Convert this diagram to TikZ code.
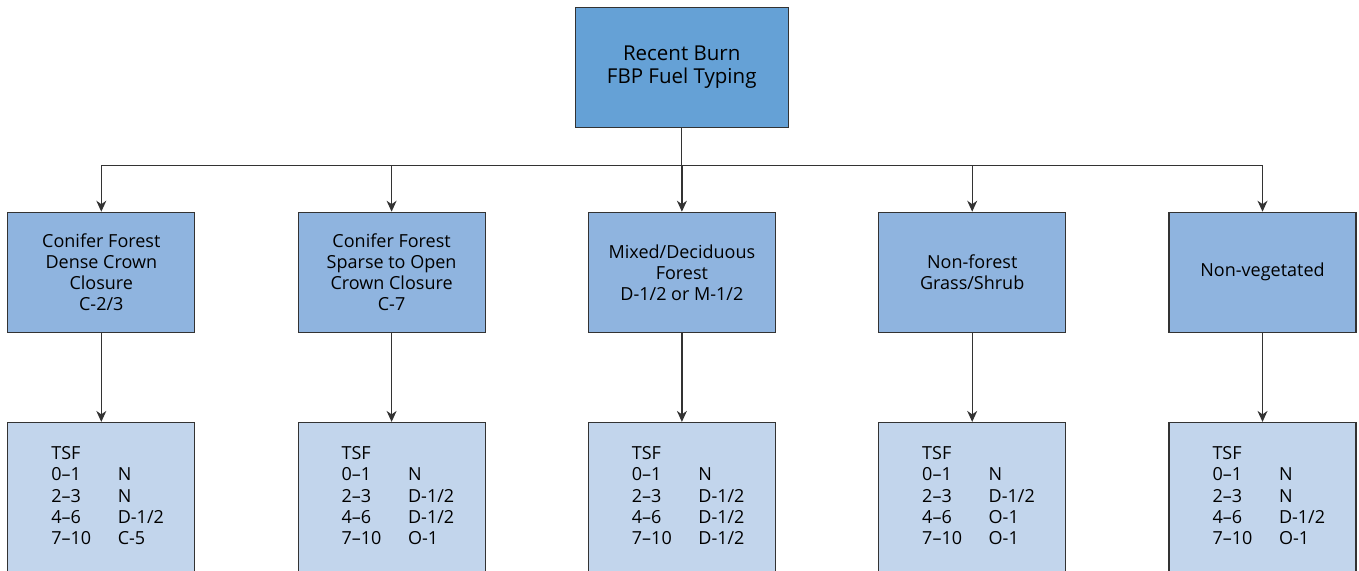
\documentclass[tikz,border=0pt]{standalone}
\usepackage{fontspec}
\setmainfont{Open Sans}
\usetikzlibrary{arrows.meta, positioning}

\definecolor{topblue}{HTML}{65A1D6}
\definecolor{midblue}{HTML}{8FB4DF}
\definecolor{lowblue}{HTML}{C2D5EC}
\definecolor{edgegray}{HTML}{333333}

\begin{document}
\begin{tikzpicture}[x=1pt, y=1pt, >={Stealth[length=11pt, width=10pt, inset=3.5pt]}, node distance=290.3pt, line width=1.2pt,
    typebox/.style={draw=edgegray, rectangle, minimum width=187pt, minimum height=120pt, fill=midblue, align=center, font=\fontsize{18}{21}\selectfont},
    tsfbox/.style={draw=edgegray, rectangle, minimum width=187pt, minimum height=180pt, fill=lowblue},
    tsftext/.style={anchor=north west, inner sep=0pt, font=\fontsize{18}{21.3}\selectfont}]
    \path[use as bounding box] (0,0) rectangle (1359,-570);
    \clip (0,0) rectangle (1359,-570);

    \node[draw=edgegray, rectangle, minimum width=213pt, minimum height=120pt, fill=topblue, align=center, font=\fontsize{20.5}{23.5}\selectfont] (top) at (681.7,-67.3) {Recent Burn\\FBP Fuel Typing};

    \node[typebox] (m1) at (101.3,-272.3) {Conifer Forest\\Dense Crown\\Closure\\C-2/3};
    \node[typebox, right of=m1] (m2) {Conifer Forest\\Sparse to Open\\Crown Closure\\C-7};
    \node[typebox, right of=m2] (m3) {Mixed/Deciduous\\Forest\\D-1/2 or M-1/2};
    \node[typebox, right of=m3] (m4) {Non-forest\\Grass/Shrub};
    \node[typebox, right of=m4] (m5) {Non-vegetated};

    \node[tsfbox, below=89pt of m1] (b1) {};
    \node[tsfbox, below=89pt of m2] (b2) {};
    \node[tsfbox, below=89pt of m3] (b3) {};
    \node[tsfbox, below=89pt of m4] (b4) {};
    \node[tsfbox, below=89pt of m5] (b5) {};

    \node[tsftext] (t1) at ([xshift=43.5pt, yshift=-22pt]b1.north west) {\begin{tabular}{@{}p{66.5pt}@{}l@{}}TSF & \\ 0--1 & N\\ 2--3 & N\\ 4--6 & D-1/2\\ 7--10 & C-5\end{tabular}};
    \node[tsftext] (t2) at ([xshift=43.5pt, yshift=-22pt]b2.north west) {\begin{tabular}{@{}p{66.5pt}@{}l@{}}TSF & \\ 0--1 & N\\ 2--3 & D-1/2\\ 4--6 & D-1/2\\ 7--10 & O-1\end{tabular}};
    \node[tsftext] (t3) at ([xshift=43.5pt, yshift=-22pt]b3.north west) {\begin{tabular}{@{}p{66.5pt}@{}l@{}}TSF & \\ 0--1 & N\\ 2--3 & D-1/2\\ 4--6 & D-1/2\\ 7--10 & D-1/2\end{tabular}};
    \node[tsftext] (t4) at ([xshift=43.5pt, yshift=-22pt]b4.north west) {\begin{tabular}{@{}p{66.5pt}@{}l@{}}TSF & \\ 0--1 & N\\ 2--3 & D-1/2\\ 4--6 & O-1\\ 7--10 & O-1\end{tabular}};
    \node[tsftext] (t5) at ([xshift=43.5pt, yshift=-22pt]b5.north west) {\begin{tabular}{@{}p{66.5pt}@{}l@{}}TSF & \\ 0--1 & N\\ 2--3 & N\\ 4--6 & D-1/2\\ 7--10 & O-1\end{tabular}};

    % bus line under the title box
    \draw[edgegray] (top.south) -- ++(0,-37.4) coordinate (bus);
    \draw[edgegray] (m1.north |- bus) -- (m5.north |- bus);
    \draw[edgegray, ->] (m1.north |- bus) -- (m1.north);
    \draw[edgegray, ->] (m2.north |- bus) -- (m2.north);
    \draw[edgegray, ->] (m3.north |- bus) -- (m3.north);
    \draw[edgegray, ->] (m4.north |- bus) -- (m4.north);
    \draw[edgegray, ->] (m5.north |- bus) -- (m5.north);

    \draw[edgegray, ->] (m1) -- (b1);
    \draw[edgegray, ->] (m2) -- (b2);
    \draw[edgegray, ->] (m3) -- (b3);
    \draw[edgegray, ->] (m4) -- (b4);
    \draw[edgegray, ->] (m5) -- (b5);
\end{tikzpicture}
\end{document}
